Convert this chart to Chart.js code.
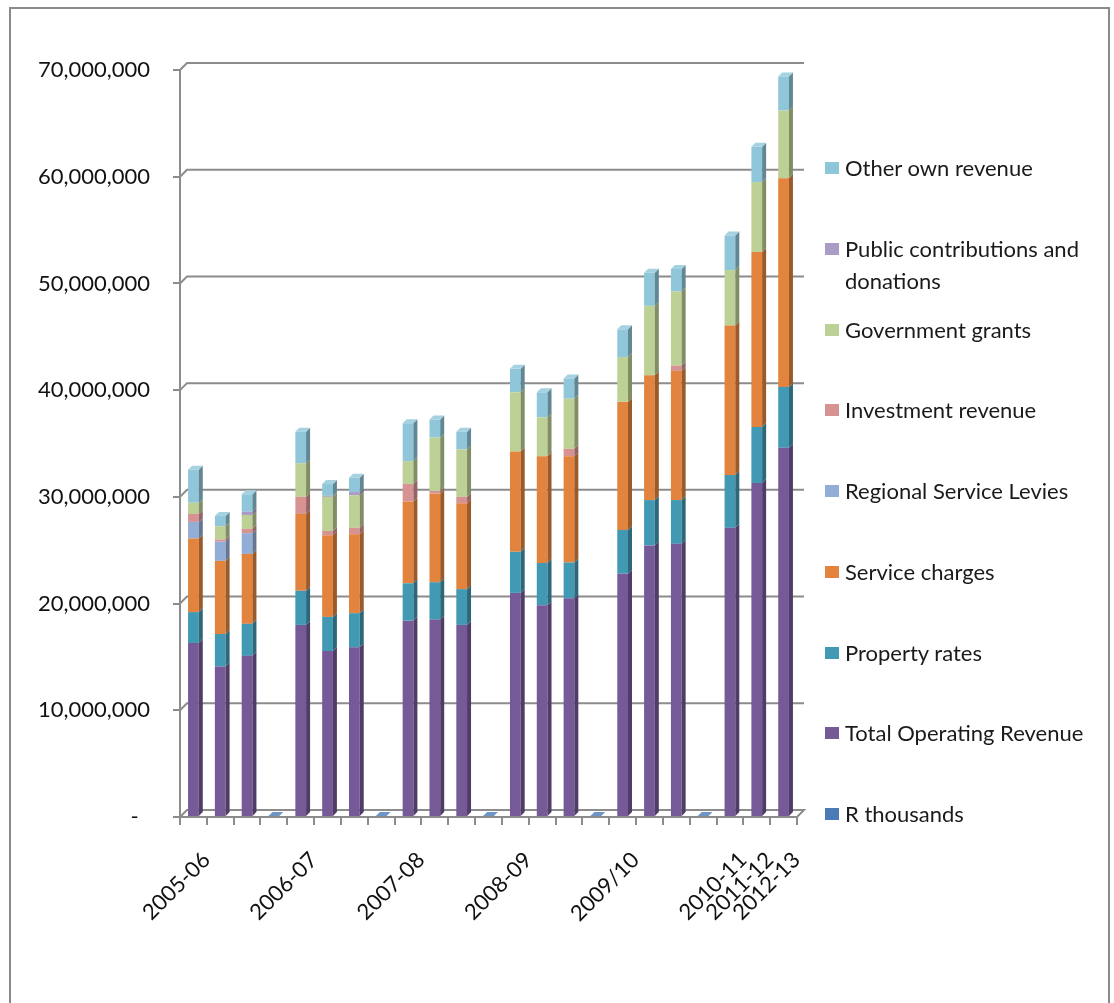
<!DOCTYPE html>
<html>
<head>
<meta charset="utf-8">
<title>Operating revenue by source</title>
<script src="https://cdn.jsdelivr.net/npm/chart.js@4"></script>
<style>
  html, body { margin: 0; padding: 0; background: #fff; }
  #wrap { position: relative; width: 1114px; height: 1003px; overflow: hidden; }
  #frame { position: absolute; left: 9px; top: 7px; width: 1101px; height: 1020px;
           border: 2px solid #8a8a8a; box-sizing: border-box; pointer-events: none; }
  #chart { position: absolute; left: 0; top: 0; }
  #legend { position: absolute; left: 825px; top: 152px; font-family: Lato, sans-serif;
            font-size: 22px; color: #1a1a1a; }
  .item { display: flex; align-items: flex-start; height: 80.75px; }
  .sw { width: 14px; height: 12px; margin-top: 10px; margin-right: 6px; flex: none; }
  .tx { width: 262px; line-height: 32px; }
</style>
</head>
<body>
<div id="wrap">
  <canvas id="chart" width="1114" height="1003"></canvas>
  <div id="legend"></div>
  <div id="frame"></div>
</div>
<script>
// Category slots: three columns per financial year, then a spacer slot
const categories = [
  '2005-06', '', '', '',
  '2006-07', '', '', '',
  '2007-08', '', '', '',
  '2008-09', '', '', '',
  '2009/10', '', '', '',
  '2010-11', '2011-12', '2012-13'
];

// Values in millions of rand (stacked bottom to top)
const rThousands         = [0, 0, 0, 0.1,   0, 0, 0, 0.1,   0, 0, 0, 0.1,   0, 0, 0, 0.1,   0, 0, 0, 0.1,   0, 0, 0];
const totalOperatingRev  = [16.3, 14.1, 15.1, 0,  18.0, 15.55, 15.9, 0,  18.4, 18.5, 18.0, 0,  21.0, 19.85, 20.5, 0,  22.8, 25.45, 25.6, 0,  27.1, 31.3, 34.6];
const propertyRates      = [2.9, 3.05, 3.0, 0,  3.2, 3.2, 3.2, 0,  3.5, 3.5, 3.35, 0,  3.85, 3.95, 3.35, 0,  4.1, 4.25, 4.1, 0,  4.95, 5.25, 5.7];
const serviceCharges     = [6.9, 6.85, 6.55, 0,  7.2, 7.65, 7.4, 0,  7.65, 8.3, 8.05, 0,  9.4, 10.0, 9.95, 0,  12.0, 11.7, 12.1, 0,  14.0, 16.4, 19.55];
const regionalLevies     = [1.55, 1.8, 1.95, 0,  0, 0, 0, 0,  0, 0, 0, 0,  0, 0, 0, 0,  0, 0, 0, 0,  0, 0, 0];
const investmentRevenue  = [0.75, 0.2, 0.4, 0,  1.6, 0.4, 0.6, 0,  1.65, 0.25, 0.6, 0,  0, 0, 0.7, 0,  0, 0, 0.5, 0,  0, 0, 0];
const governmentGrants   = [1.05, 1.25, 1.3, 0,  3.15, 3.2, 3.05, 0,  2.15, 5.0, 4.45, 0,  5.55, 3.65, 4.7, 0,  4.2, 6.5, 6.95, 0,  5.2, 6.55, 6.35];
const publicContrib      = [0, 0, 0.3, 0,  0, 0.1, 0.3, 0,  0, 0, 0, 0,  0, 0, 0, 0,  0, 0, 0, 0,  0, 0, 0];
const otherOwnRevenue    = [3.1, 0.95, 1.65, 0,  2.95, 1.1, 1.35, 0,  3.55, 1.7, 1.65, 0,  2.2, 2.35, 1.9, 0,  2.6, 3.1, 2.1, 0,  3.25, 3.3, 3.2];

const seriesNames = [
  'R thousands', 'Total Operating Revenue', 'Property rates', 'Service charges',
  'Regional Service Levies', 'Investment revenue', 'Government grants',
  'Public contributions and donations', 'Other own revenue'
];
const seriesValues = [
  rThousands, totalOperatingRev, propertyRates, serviceCharges,
  regionalLevies, investmentRevenue, governmentGrants, publicContrib, otherOwnRevenue
];
const seriesColors = [
  '#4a7bb6', '#765a98', '#4299b3', '#e2843e',
  '#93aed6', '#d69391', '#bdd095', '#ab9cc6', '#90c6d9'
];

const yTicks = [0, 10e6, 20e6, 30e6, 40e6, 50e6, 60e6, 70e6];
const MILLION = 1e6;

const FONT = 'Lato, sans-serif';
const AXIS_GREY = '#8c8c8c';
const WALL = 7;       // depth of the back wall behind the plot
const BAR_DEPTH = 4;  // depth of each column

function shade(hex, f) {
  const n = parseInt(hex.slice(1), 16);
  let r = (n >> 16) & 255, g = (n >> 8) & 255, b = n & 255;
  if (f < 0) { r *= 1 + f; g *= 1 + f; b *= 1 + f; }
  else { r += (255 - r) * f; g += (255 - g) * f; b += (255 - b) * f; }
  return `rgb(${Math.round(r)},${Math.round(g)},${Math.round(b)})`;
}

// Back wall gridlines and floor, drawn behind the columns
const wallGrid = {
  id: 'wallGrid',
  beforeDatasetsDraw(chart) {
    const { ctx, chartArea: a, scales: { y } } = chart;
    ctx.save();
    ctx.strokeStyle = AXIS_GREY;
    ctx.lineWidth = 2;
    y.ticks.forEach(t => {
      const py = y.getPixelForValue(t.value);
      ctx.beginPath();
      ctx.moveTo(a.left, py);
      ctx.lineTo(a.left + WALL, py - WALL);
      ctx.lineTo(a.right + WALL, py - WALL);
      if (t.value === 0) ctx.lineTo(a.right, py);
      ctx.stroke();
    });
    ctx.restore();
  }
};

// Side and top faces give each stacked column some depth
const columnDepth = {
  id: 'columnDepth',
  afterDatasetsDraw(chart) {
    const ctx = chart.ctx;
    const n = chart.data.labels.length;
    ctx.save();
    for (let i = 0; i < n; i++) {
      let top = null;
      chart.data.datasets.forEach((ds, d) => {
        const meta = chart.getDatasetMeta(d);
        const el = meta.data[i];
        if (!el || !ds.data[i]) return;
        const { x, y, base, width } = el.getProps(['x', 'y', 'base', 'width'], true);
        const r = x + width / 2;
        ctx.fillStyle = shade(ds.backgroundColor, -0.32);
        ctx.beginPath();
        ctx.moveTo(r, y);
        ctx.lineTo(r + BAR_DEPTH, y - BAR_DEPTH);
        ctx.lineTo(r + BAR_DEPTH, base - BAR_DEPTH);
        ctx.lineTo(r, base);
        ctx.closePath();
        ctx.fill();
        if (!top || y < top.y) top = { x, y, width, color: ds.backgroundColor };
      });
      if (top) {
        const l = top.x - top.width / 2, r = top.x + top.width / 2;
        ctx.fillStyle = shade(top.color, 0.2);
        ctx.beginPath();
        ctx.moveTo(l, top.y);
        ctx.lineTo(l + BAR_DEPTH, top.y - BAR_DEPTH);
        ctx.lineTo(r + BAR_DEPTH, top.y - BAR_DEPTH);
        ctx.lineTo(r, top.y);
        ctx.closePath();
        ctx.fill();
      }
    }
    ctx.restore();
  }
};

const datasets = seriesNames.map((name, k) => ({
  label: name,
  data: seriesValues[k].map(v => v * MILLION),
  backgroundColor: seriesColors[k],
  borderWidth: 0,
  categoryPercentage: 1.0,
  barPercentage: 0.4
}));

const chart = new Chart(document.getElementById('chart'), {
  type: 'bar',
  data: { labels: categories, datasets },
  options: {
    responsive: false,
    animation: false,
    layout: { padding: { top: 70, right: 317, bottom: 0, left: 0 } },
    plugins: { legend: { display: false }, tooltip: { enabled: false } },
    scales: {
      x: {
        stacked: true,
        afterFit(scale) { scale.height = 186; },
        border: { display: true, color: AXIS_GREY, width: 2 },
        grid: { display: true, drawOnChartArea: false, drawTicks: true, tickLength: 8,
                color: AXIS_GREY, lineWidth: 2, offset: true },
        ticks: { autoSkip: false, maxRotation: 45, minRotation: 45, padding: 22,
                 labelOffset: 13, color: '#111', font: { family: FONT, size: 22 } }
      },
      y: {
        stacked: true,
        min: yTicks[0],
        max: yTicks[yTicks.length - 1],
        afterFit(scale) { scale.width = 180; },
        afterBuildTicks(scale) { scale.ticks = yTicks.map(v => ({ value: v })); },
        border: { display: true, color: AXIS_GREY, width: 2 },
        grid: { display: true, drawOnChartArea: false, drawTicks: true, tickLength: 7,
                color: AXIS_GREY, lineWidth: 2 },
        ticks: {
          padding: 23,
          color: '#111',
          font: { family: FONT, size: 22 },
          callback: v => (v === 0 ? '-  ' : v.toLocaleString('en-US'))
        }
      }
    }
  },
  plugins: [wallGrid, columnDepth]
});

// Legend lists the series from the top of the stack downwards
const legend = document.getElementById('legend');
chart.data.datasets.slice().reverse().forEach(ds => {
  const item = document.createElement('div');
  item.className = 'item';
  const sw = document.createElement('span');
  sw.className = 'sw';
  sw.style.background = ds.backgroundColor;
  const tx = document.createElement('span');
  tx.className = 'tx';
  tx.textContent = ds.label;
  item.appendChild(sw);
  item.appendChild(tx);
  legend.appendChild(item);
});
</script>
</body>
</html>
